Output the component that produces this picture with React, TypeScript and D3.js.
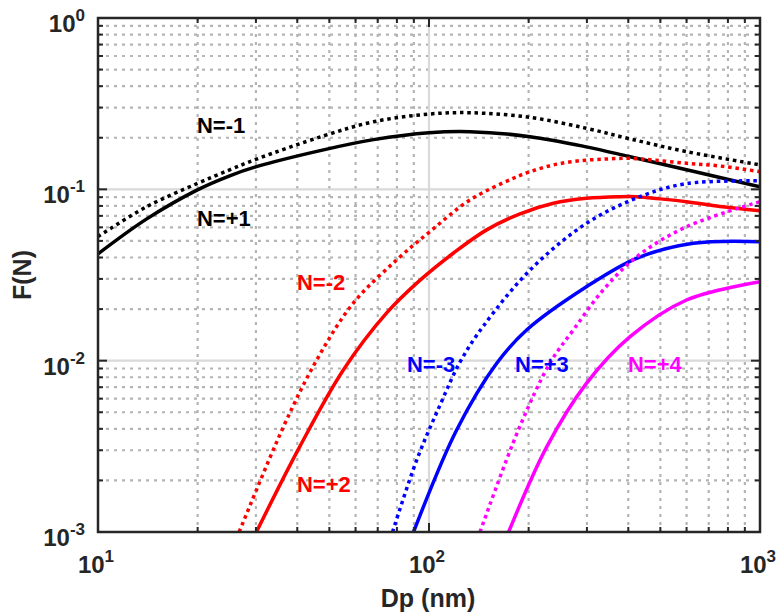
import React from "react";
import * as d3 from "d3";

// ---- data ----
const DP_M1 = [10, 14, 19.9, 25, 30.1, 48, 68, 100, 133, 202, 299, 405, 600, 1000];
const F_M1 = [0.053, 0.079, 0.108, 0.13, 0.15, 0.205, 0.248, 0.275, 0.28, 0.263, 0.227, 0.197, 0.166, 0.139];

const DP_P1 = [10, 14, 19.9, 25, 30.1, 48, 68, 100, 133, 202, 299, 405, 600, 1000];
const F_P1 = [0.042, 0.067, 0.099, 0.12, 0.1356, 0.17, 0.195, 0.214, 0.217, 0.203, 0.177, 0.155, 0.13, 0.1035];

const DP_M2 = [26.7, 36.3, 45.8, 59, 79.8, 100.6, 133, 179.5, 202, 237, 286, 344, 405, 475, 601, 757, 1000];
const F_M2 = [0.001, 0.0041, 0.0101, 0.0216, 0.0387, 0.0566, 0.0867, 0.1159, 0.1268, 0.1387, 0.1469, 0.1503, 0.1517, 0.1483, 0.1419, 0.1368, 0.1268];

const DP_P2 = [30.1, 40.7, 55.1, 74.5, 94, 118.6, 149.3, 188.4, 237.7, 299.2, 377.6, 423.6, 476.4, 600, 757, 1000];
const F_P2 = [0.001, 0.00315, 0.00883, 0.019, 0.0295, 0.0425, 0.058, 0.072, 0.083, 0.0887, 0.0906, 0.0906, 0.0887, 0.0847, 0.0793, 0.075];

const DP_M3 = [77.6, 91.8, 108, 124.1, 145.9, 202, 299, 434, 600, 1000];
const F_M3 = [0.001, 0.00263, 0.00551, 0.00982, 0.0159, 0.0338, 0.0633, 0.0906, 0.108, 0.112];

const DP_P3 = [89.8, 121.2, 160.2, 197.2, 299, 424, 629, 1000];
const F_P3 = [0.001, 0.00394, 0.00966, 0.0151, 0.027, 0.0396, 0.0484, 0.0495];

const DP_M4 = [142.6, 186.2, 232.1, 272.9, 335.6, 424.2, 600, 1000];
const F_M4 = [0.001, 0.00394, 0.0097, 0.0151, 0.0258, 0.0404, 0.0605, 0.0847];

const DP_P4 = [174, 227, 299, 405, 600, 1000];
const F_P4 = [0.001, 0.00315, 0.00737, 0.0138, 0.0226, 0.0289];

const X_TICKS = [10, 100, 1000];
const X_TICK_EXP = ["1", "2", "3"];
const Y_TICKS = [1, 0.1, 0.01, 0.001];
const Y_TICK_EXP = ["0", "-1", "-2", "-3"];

const LABELS = ["N=-1", "N=+1", "N=-2", "N=+2", "N=-3", "N=+3", "N=+4"];
const LABEL_DP = [19.9, 19.9, 39.9, 39.9, 85.8, 181.9, 399];
const LABEL_F = [0.213, 0.0611, 0.0258, 0.00171, 0.00859, 0.00859, 0.00859];
const LABEL_COLORS = ["#000000", "#000000", "#ff0000", "#ff0000", "#0000ff", "#0000ff", "#ff00ff"];

const SERIES = [
  { x: DP_M1, y: F_M1, color: "#000000", dotted: true },
  { x: DP_P1, y: F_P1, color: "#000000", dotted: false },
  { x: DP_M2, y: F_M2, color: "#ff0000", dotted: true },
  { x: DP_P2, y: F_P2, color: "#ff0000", dotted: false },
  { x: DP_M3, y: F_M3, color: "#0000ff", dotted: true },
  { x: DP_P3, y: F_P3, color: "#0000ff", dotted: false },
  { x: DP_M4, y: F_M4, color: "#ff00ff", dotted: true },
  { x: DP_P4, y: F_P4, color: "#ff00ff", dotted: false },
];

const W = 778;
const H = 616;
const L = 98;
const R = 760;
const T = 18;
const B = 532;
const FONT = "'Liberation Sans', Arial, Helvetica, sans-serif";

export default function App() {
  const x = d3.scaleLog().domain([10, 1000]).range([L, R]);
  const y = d3.scaleLog().domain([1e-3, 1]).range([B, T]);

  const xMinor: number[] = [];
  [10, 100].forEach((d) => {
    for (let k = 2; k <= 9; k++) xMinor.push(d * k);
  });
  const yMinor: number[] = [];
  [0.001, 0.01, 0.1].forEach((d) => {
    for (let k = 2; k <= 9; k++) yMinor.push(d * k);
  });
  const xMajorInner = [100];
  const yMajorInner = [0.01, 0.1];

  const line = d3
    .line<[number, number]>()
    .x((d) => x(d[0]))
    .y((d) => y(d[1]))
    .curve(d3.curveCatmullRom.alpha(0.5));

  const gridMinor = { stroke: "#b4b4b4", strokeWidth: 2.2, strokeDasharray: "3,5" };
  const gridMajor = { stroke: "#d9d9d9", strokeWidth: 2.2 };
  const axisColor = "#262626";

  return (
    <svg
      width={W}
      height={H}
      style={{ position: "absolute", left: 0, top: 0, background: "#fff" }}
      fontFamily={FONT}
      fontWeight="bold"
    >
      <defs>
        <clipPath id="plotclip">
          <rect x={L} y={T} width={R - L} height={B - T} />
        </clipPath>
      </defs>
      <rect x={0} y={0} width={W} height={H} fill="#fff" />

      {/* grid */}
      <g>
        {xMinor.map((v, i) => (
          <line key={"xm" + i} x1={x(v)} x2={x(v)} y1={T} y2={B} {...gridMinor} />
        ))}
        {yMinor.map((v, i) => (
          <line key={"ym" + i} x1={L} x2={R} y1={y(v)} y2={y(v)} {...gridMinor} />
        ))}
        {xMajorInner.map((v, i) => (
          <line key={"xM" + i} x1={x(v)} x2={x(v)} y1={T} y2={B} {...gridMajor} />
        ))}
        {yMajorInner.map((v, i) => (
          <line key={"yM" + i} x1={L} x2={R} y1={y(v)} y2={y(v)} {...gridMajor} />
        ))}
      </g>

      {/* curves */}
      <g clipPath="url(#plotclip)">
        {SERIES.map((s, i) => {
          const pts = s.x.map((v, j) => [v, s.y[j]] as [number, number]);
          return (
            <path
              key={"s" + i}
              d={line(pts) || ""}
              fill="none"
              stroke={s.color}
              strokeWidth={3.5}
              strokeDasharray={s.dotted ? "3.5,3.8" : undefined}
            />
          );
        })}
      </g>

      {/* curve labels */}
      {LABELS.map((t, i) => (
        <text
          key={"lab" + i}
          x={x(LABEL_DP[i])}
          y={y(LABEL_F[i])}
          fill={LABEL_COLORS[i]}
          fontSize={22}
        >
          {t}
        </text>
      ))}

      {/* ticks */}
      <g stroke={axisColor} strokeWidth={2}>
        {xMinor.map((v, i) => (
          <g key={"xt" + i}>
            <line x1={x(v)} x2={x(v)} y1={B} y2={B - 5} />
            <line x1={x(v)} x2={x(v)} y1={T} y2={T + 5} />
          </g>
        ))}
        {xMajorInner.map((v, i) => (
          <g key={"xT" + i}>
            <line x1={x(v)} x2={x(v)} y1={B} y2={B - 9} />
            <line x1={x(v)} x2={x(v)} y1={T} y2={T + 9} />
          </g>
        ))}
        {yMinor.map((v, i) => (
          <g key={"yt" + i}>
            <line x1={L} x2={L + 5} y1={y(v)} y2={y(v)} />
            <line x1={R} x2={R - 5} y1={y(v)} y2={y(v)} />
          </g>
        ))}
        {yMajorInner.map((v, i) => (
          <g key={"yT" + i}>
            <line x1={L} x2={L + 9} y1={y(v)} y2={y(v)} />
            <line x1={R} x2={R - 9} y1={y(v)} y2={y(v)} />
          </g>
        ))}
      </g>

      {/* box */}
      <rect x={L} y={T} width={R - L} height={B - T} fill="none" stroke={axisColor} strokeWidth={2.5} />

      {/* tick labels */}
      {X_TICKS.map((v, i) => (
        <text key={"xl" + i} x={x(v) - 2} y={573} textAnchor="middle" fill={axisColor} fontSize={24}>
          10
          <tspan dy={-11} fontSize={17}>
            {X_TICK_EXP[i]}
          </tspan>
        </text>
      ))}
      {Y_TICKS.map((v, i) => (
        <text key={"yl" + i} x={85} y={y(v) + 14} textAnchor="end" fill={axisColor} fontSize={24}>
          10
          <tspan dy={-11} fontSize={17}>
            {Y_TICK_EXP[i]}
          </tspan>
        </text>
      ))}

      {/* axis titles */}
      <text x={428} y={607} textAnchor="middle" fill={axisColor} fontSize={25}>
        Dp (nm)
      </text>
      <text
        transform={`translate(31, ${(T + B) / 2}) rotate(-90)`}
        textAnchor="middle"
        fill={axisColor}
        fontSize={25}
      >
        F(N)
      </text>
    </svg>
  );
}
